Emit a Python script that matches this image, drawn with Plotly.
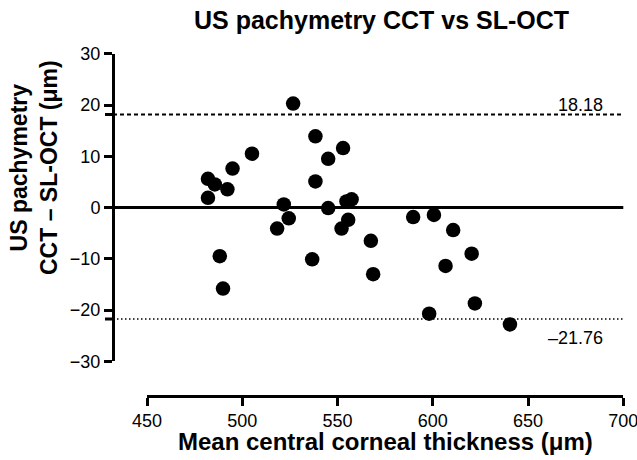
import plotly.graph_objects as go

W, H = 637, 460

# Data
mean_cct = [526.7, 538.4, 552.9, 545.1, 505.1, 494.9, 482.0, 485.6, 492.2, 482.0,
            538.4, 521.8, 545.1, 554.7, 557.4, 524.4, 555.6, 518.3, 552.1, 567.5,
            488.2, 536.7, 568.7, 489.9, 589.7, 600.6, 610.7, 620.4, 606.7, 622.1,
            598.1, 640.5]
diff = [20.3, 13.9, 11.6, 9.5, 10.5, 7.6, 5.6, 4.5, 3.55, 1.9,
        5.1, 0.6, -0.1, 1.2, 1.6, -2.1, -2.4, -4.1, -4.1, -6.5,
        -9.5, -10.1, -13.0, -15.8, -1.85, -1.45, -4.4, -9.0, -11.4, -18.7,
        -20.7, -22.8]
upper_loa = 18.18
lower_loa = -21.76
bias_line = 0
x_ticks = [450, 500, 550, 600, 650, 700]
y_ticks = [-30, -20, -10, 0, 10, 20, 30]

FONT = "Liberation Sans, Arial, sans-serif"

# pixel geometry
x_left_px, x_right_px = 147.0, 623.3
y_top_px, y_bot_px = 53.8, 361.3
yaxis_px = 113.0
xaxis_py = 395.5

fig = go.Figure()
fig.add_trace(go.Scatter(
    x=mean_cct, y=diff, mode="markers",
    marker=dict(size=14.5, color="black", line=dict(width=0)),
    showlegend=False, cliponaxis=False, hoverinfo="skip",
))

shapes = []
shapes.append(dict(type="line", xref="paper", yref="y",
                   x0=yaxis_px / W, x1=x_right_px / W, y0=bias_line, y1=bias_line,
                   line=dict(color="black", width=3), layer="below"))
shapes.append(dict(type="line", xref="paper", yref="y",
                   x0=yaxis_px / W, x1=x_right_px / W, y0=upper_loa, y1=upper_loa,
                   line=dict(color="black", width=2, dash="4px,3px"), layer="below"))
shapes.append(dict(type="line", xref="paper", yref="y",
                   x0=(yaxis_px - 8) / W, x1=yaxis_px / W, y0=upper_loa, y1=upper_loa,
                   line=dict(color="black", width=3), layer="below"))
shapes.append(dict(type="line", xref="paper", yref="y",
                   x0=yaxis_px / W, x1=x_right_px / W, y0=lower_loa, y1=lower_loa,
                   line=dict(color="black", width=1.5, dash="1.5px,2.5px"), layer="below"))
shapes.append(dict(type="line", xref="paper", yref="y",
                   x0=(yaxis_px - 8) / W, x1=yaxis_px / W, y0=lower_loa, y1=lower_loa,
                   line=dict(color="black", width=3), layer="below"))

annotations = [
    dict(text="<b>US pachymetry CCT vs SL-OCT</b>", x=381 / W, y=1 - 20 / H,
         xref="paper", yref="paper", showarrow=False, xanchor="center", yanchor="middle",
         font=dict(size=25, color="black", family=FONT)),
    dict(text="<b>Mean central corneal thickness (μm)</b>", x=385.5 / W, y=1 - 441 / H,
         xref="paper", yref="paper", showarrow=False, xanchor="center", yanchor="middle",
         font=dict(size=24, color="black", family=FONT)),
    dict(text="<b>US pachymetry<br>CCT – SL-OCT (μm)</b>", x=34 / W, y=1 - 168 / H,
         xref="paper", yref="paper", showarrow=False, xanchor="center", yanchor="middle",
         textangle=-90, font=dict(size=23, color="black", family=FONT)),
    dict(text="18.18", x=605 / W, y=1 - 105 / H,
         xref="paper", yref="paper", showarrow=False, xanchor="right", yanchor="middle",
         font=dict(size=18, color="black", family=FONT)),
    dict(text="–21.76", x=605 / W, y=1 - 338 / H,
         xref="paper", yref="paper", showarrow=False, xanchor="right", yanchor="middle",
         font=dict(size=18, color="black", family=FONT)),
]

axis_common = dict(showline=True, linewidth=3, linecolor="black",
                   ticks="outside", ticklen=8, tickwidth=3, tickcolor="black",
                   showgrid=False, zeroline=False, automargin=False,
                   ticklabeloverflow="allow",
                   tickfont=dict(size=18, color="black", family=FONT))

fig.update_layout(
    width=W, height=H,
    margin=dict(l=0, r=0, t=0, b=0, autoexpand=False),
    paper_bgcolor="white", plot_bgcolor="white",
    font=dict(family=FONT, color="black", size=18),
    hovermode=False,
    xaxis=dict(domain=[x_left_px / W, x_right_px / W], range=[450, 700],
               anchor="free", position=1 - xaxis_py / H,
               tickvals=x_ticks, **axis_common),
    yaxis=dict(domain=[1 - y_bot_px / H, 1 - y_top_px / H], range=[-30, 30],
               anchor="free", position=yaxis_px / W,
               tickvals=y_ticks, **axis_common),
    shapes=shapes,
    annotations=annotations,
)

fig.write_html("out.html",
               config={"displayModeBar": False, "staticPlot": True},
               post_script="document.body.style.margin='0';document.body.style.overflow='hidden';")
